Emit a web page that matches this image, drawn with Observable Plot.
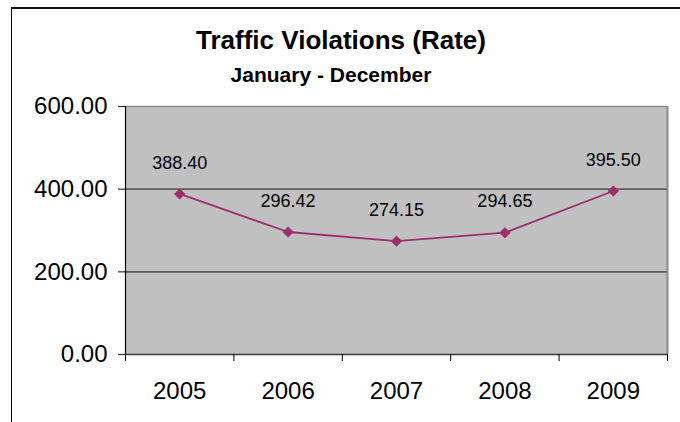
<!DOCTYPE html>
<html>
<head>
<meta charset="utf-8">
<script src="https://cdn.jsdelivr.net/npm/d3@7"></script>
<script src="https://cdn.jsdelivr.net/npm/@observablehq/plot@0.6"></script>
<style>
  html, body { margin: 0; padding: 0; background: #fff; }
  #wrap { position: relative; width: 680px; height: 422px; overflow: hidden; font-family: "Liberation Sans", Arial, sans-serif; }
  #border { position: absolute; left: 11px; top: 7px; width: 720px; height: 480px; border-left: 1px solid #000; border-top: 2px solid #111; }
  #chart { position: absolute; left: 0; top: 0; }
  .t { position: absolute; left: 0; width: 680px; box-sizing: border-box; text-align: center; font-weight: bold; color: #000; white-space: nowrap; }
  #title { top: 27px; font-size: 26px; line-height: 26px; padding-left: 2px; }
  #subtitle { top: 64px; font-size: 21px; line-height: 21px; padding-right: 18px; }
</style>
</head>
<body>
<div id="wrap">
  <div id="border"></div>
  <div id="chart"></div>
  <div id="title" class="t">Traffic Violations (Rate)</div>
  <div id="subtitle" class="t">January - December</div>
</div>
<script>
const years = [2005, 2006, 2007, 2008, 2009];
const rates = [388.40, 296.42, 274.15, 294.65, 395.50];
const yTicks = [0, 200, 400, 600];
const gridValues = [200, 400];

const data = years.map((year, i) => ({year, rate: rates[i]}));
const boundaries = [years[0] - 0.5, ...years.map(y => y + 0.5)];
const fmt = d3.format(".2f");
const lineColor = "#9b2e6b";

const chart = Plot.plot({
  width: 680,
  height: 422,
  marginTop: 106,
  marginBottom: 68,
  marginLeft: 125,
  marginRight: 13,
  style: {background: "transparent", fontFamily: "'Liberation Sans', Arial, sans-serif", color: "#000", overflow: "visible"},
  x: {domain: [boundaries[0], boundaries[boundaries.length - 1]]},
  y: {domain: [yTicks[0], yTicks[yTicks.length - 1]]},
  marks: [
    Plot.frame({fill: "#c0c0c0", stroke: "none"}),
    Plot.ruleY(gridValues, {stroke: "#5e5e5e", strokeWidth: 1.6}),
    Plot.ruleY([yTicks[yTicks.length - 1]], {stroke: "#8a8a8a", strokeWidth: 1.6}),
    Plot.ruleX([boundaries[boundaries.length - 1]], {stroke: "#8a8a8a", strokeWidth: 2}),
    Plot.ruleX([boundaries[0]], {stroke: "#000", strokeWidth: 1.2}),
    Plot.ruleY([yTicks[0]], {stroke: "#3a3a3a", strokeWidth: 1.6}),
    Plot.axisY({ticks: yTicks, tickFormat: fmt, tickSize: 7, tickPadding: 11, fontSize: 24, stroke: "#333", strokeWidth: 1.2, label: null}),
    Plot.axisX({ticks: boundaries, tickFormat: () => "", tickSize: 7, stroke: "#000", strokeWidth: 1, label: null}),
    Plot.axisX({ticks: years, tickFormat: d => String(d), tickSize: 0, tickPadding: 27, fontSize: 24, label: null}),
    Plot.line(data, {x: "year", y: "rate", stroke: lineColor, strokeWidth: 1.8}),
    Plot.dot(data, {x: "year", y: "rate", symbol: "diamond2", r: 4.8, fill: lineColor, stroke: lineColor, strokeWidth: 0.5}),
    Plot.text(data, {x: "year", y: "rate", text: d => fmt(d.rate), dy: -31, fontSize: 18, fill: "#000"})
  ]
});
document.getElementById("chart").appendChild(chart);
</script>
</body>
</html>
